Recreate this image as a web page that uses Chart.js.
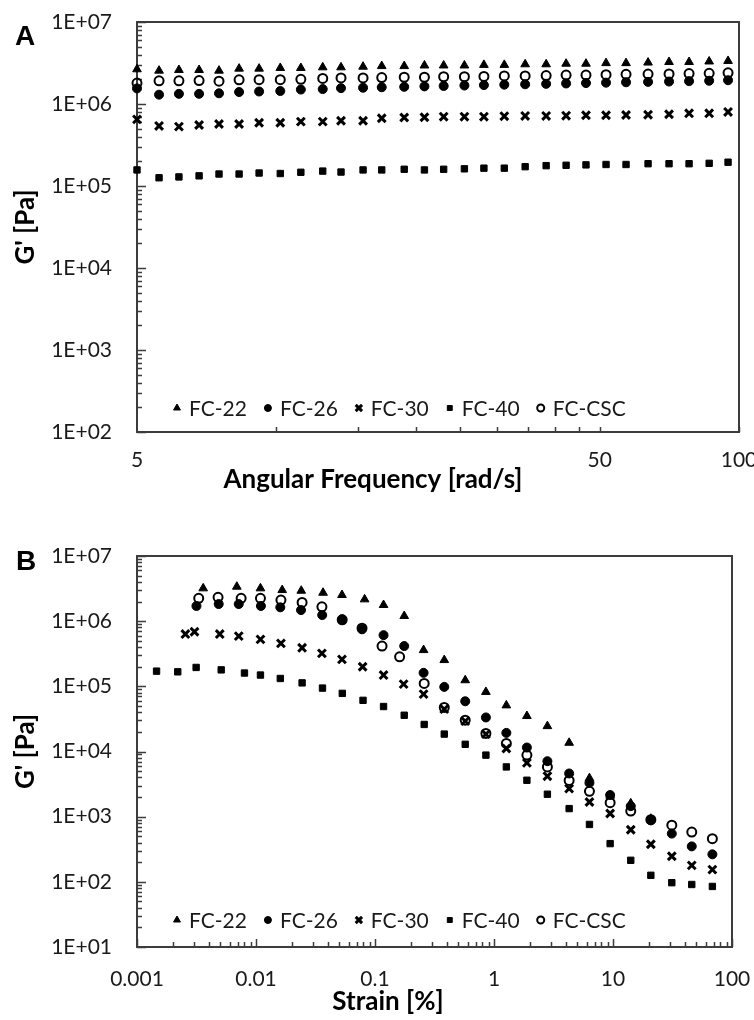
<!DOCTYPE html>
<html>
<head>
<meta charset="utf-8">
<script src="https://cdn.jsdelivr.net/npm/chart.js@4.4.1/dist/chart.umd.min.js"></script>
<style>
  html, body { margin: 0; padding: 0; background: #fff; }
  canvas { display: block; }
</style>
</head>
<body>
<canvas id="chart-a" width="754" height="505"></canvas>
<canvas id="chart-b" width="754" height="515"></canvas>
<script>
// Panel A: frequency sweep, G' vs angular frequency
const freq = [5.0, 5.58, 6.16, 6.81, 7.52, 8.31, 9.18, 10.2, 11.3, 12.6, 13.8, 15.4, 16.9, 18.9, 20.9,
  23.0, 25.5, 28.1, 31.1, 34.5, 38.3, 42.3, 46.7, 51.6, 57.0, 63.6, 70.6, 78.0, 86.2, 94.7];
const gFreq22 = [2.65e6, 2.55e6, 2.6e6, 2.6e6, 2.55e6, 2.7e6, 2.7e6, 2.75e6, 2.75e6, 2.8e6, 2.8e6, 2.85e6, 2.9e6, 2.9e6, 2.95e6,
  2.95e6, 2.95e6, 3.0e6, 3.0e6, 3.05e6, 3.05e6, 3.1e6, 3.1e6, 3.15e6, 3.15e6, 3.2e6, 3.25e6, 3.25e6, 3.3e6, 3.35e6];
const gFreq26 = [1.55e6, 1.3e6, 1.33e6, 1.33e6, 1.35e6, 1.4e6, 1.42e6, 1.44e6, 1.5e6, 1.52e6, 1.56e6, 1.58e6, 1.6e6, 1.62e6, 1.64e6,
  1.66e6, 1.68e6, 1.7e6, 1.72e6, 1.74e6, 1.76e6, 1.78e6, 1.8e6, 1.82e6, 1.84e6, 1.86e6, 1.88e6, 1.9e6, 1.92e6, 1.95e6];
const gFreq30 = [6.5e5, 5.4e5, 5.3e5, 5.55e5, 5.7e5, 5.7e5, 5.9e5, 5.9e5, 6.1e5, 6.1e5, 6.25e5, 6.25e5, 6.7e5, 6.85e5, 6.9e5,
  7.0e5, 7.0e5, 7.0e5, 7.1e5, 7.15e5, 7.15e5, 7.2e5, 7.3e5, 7.3e5, 7.35e5, 7.4e5, 7.5e5, 7.7e5, 7.7e5, 8.0e5];
const gFreq40 = [1.57e5, 1.26e5, 1.29e5, 1.33e5, 1.4e5, 1.4e5, 1.44e5, 1.42e5, 1.47e5, 1.52e5, 1.48e5, 1.57e5, 1.57e5, 1.6e5, 1.57e5,
  1.6e5, 1.62e5, 1.65e5, 1.65e5, 1.72e5, 1.77e5, 1.79e5, 1.81e5, 1.83e5, 1.83e5, 1.87e5, 1.87e5, 1.87e5, 1.89e5, 1.95e5];
const gFreqCSC = [1.8e6, 1.92e6, 1.92e6, 1.93e6, 1.9e6, 1.97e6, 1.98e6, 1.98e6, 2.0e6, 2.05e6, 2.08e6, 2.08e6, 2.1e6, 2.12e6, 2.12e6,
  2.15e6, 2.15e6, 2.17e6, 2.2e6, 2.2e6, 2.22e6, 2.25e6, 2.25e6, 2.28e6, 2.3e6, 2.32e6, 2.33e6, 2.35e6, 2.37e6, 2.4e6];

// Panel B: strain sweep, G' vs strain (each sample has its own strain points)
const strain22 = [0.0036, 0.0069, 0.0109, 0.0166, 0.024, 0.0366, 0.0528, 0.0818, 0.118, 0.176, 0.256,
  0.382, 0.573, 0.855, 1.27, 1.89, 2.81, 4.28, 6.34, 9.46, 14.1, 20.8];
const gStrain22 = [3.19e6, 3.38e6, 3.19e6, 3.0e6, 2.93e6, 2.73e6, 2.52e6, 2.16e6, 1.77e6, 1.2e6, 3.6e5,
  2.53e5, 1.24e5, 8.2e4, 5.1e4, 3.5e4, 2.45e4, 1.36e4, 3.9e3, 2.1e3, 1.6e3, 9.3e2];
const strain26 = [0.00316, 0.00486, 0.00716, 0.011, 0.016, 0.0239, 0.036, 0.053, 0.0778, 0.118, 0.176, 0.256,
  0.382, 0.573, 0.855, 1.27, 1.89, 2.81, 4.28, 6.34, 9.46, 14.1, 20.8, 31.2, 45.9, 68.4];
const gStrain26 = [1.71e6, 1.83e6, 1.83e6, 1.71e6, 1.63e6, 1.48e6, 1.24e6, 1.07e6, 7.5e5, 6.1e5, 4.15e5, 1.61e5,
  9.8e4, 5.9e4, 3.33e4, 1.93e4, 1.15e4, 7.1e3, 4.6e3, 3.3e3, 2.15e3, 1.45e3, 8.8e2, 5.5e2, 3.5e2, 2.64e2];
const strain30 = [0.00255, 0.00304, 0.00496, 0.00716, 0.0109, 0.0162, 0.0244, 0.0358, 0.0528, 0.0787, 0.118, 0.174, 0.256,
  0.382, 0.573, 0.855, 1.27, 1.89, 2.81, 4.28, 6.34, 9.46, 14.1, 20.8, 31.2, 45.9, 68.4];
const gStrain30 = [6.34e5, 6.88e5, 6.34e5, 5.9e5, 5.25e5, 4.56e5, 3.9e5, 3.2e5, 2.59e5, 2.0e5, 1.49e5, 1.08e5, 7.6e4,
  4.47e4, 2.92e4, 1.85e4, 1.11e4, 6.7e3, 4.18e3, 2.7e3, 1.68e3, 1.12e3, 6.3e2, 3.77e2, 2.47e2, 1.79e2, 1.54e2];
const strain40 = [0.00146, 0.0022, 0.00314, 0.0051, 0.008, 0.0109, 0.016, 0.0244, 0.0362, 0.0531, 0.0793, 0.118, 0.176, 0.259,
  0.382, 0.573, 0.855, 1.27, 1.89, 2.81, 4.28, 6.34, 9.46, 14.1, 20.8, 31.2, 45.9, 68.4];
const gStrain40 = [1.71e5, 1.67e5, 1.95e5, 1.79e5, 1.6e5, 1.49e5, 1.32e5, 1.13e5, 9.4e4, 7.8e4, 6.1e4, 4.9e4, 3.6e4, 2.6e4,
  1.85e4, 1.29e4, 8.8e3, 5.8e3, 3.62e3, 2.21e3, 1.33e3, 7.6e2, 3.86e2, 2.14e2, 1.26e2, 97, 91, 85];
const strainCSC = [0.0033, 0.0048, 0.0075, 0.0109, 0.0162, 0.0244, 0.0358, 0.053, 0.0778, 0.1146, 0.161, 0.259,
  0.382, 0.573, 0.855, 1.27, 1.89, 2.81, 4.28, 6.34, 9.46, 14.1, 20.8, 31.2, 45.9, 68.4];
const gStrainCSC = [2.24e6, 2.32e6, 2.24e6, 2.24e6, 2.11e6, 1.94e6, 1.66e6, 1.05e6, 7.8e5, 4.15e5, 2.84e5, 1.11e5,
  4.74e4, 3.03e4, 1.89e4, 1.33e4, 8.8e3, 5.8e3, 3.6e3, 2.45e3, 1.64e3, 1.22e3, 9.0e2, 7.4e2, 5.8e2, 4.6e2];

// Axis ticks
const seriesNames = ['FC-22', 'FC-26', 'FC-30', 'FC-40', 'FC-CSC'];
const gTicksA = [1e2, 1e3, 1e4, 1e5, 1e6, 1e7];
const gTicksB = [1e1, 1e2, 1e3, 1e4, 1e5, 1e6, 1e7];
const freqTickLabels = [5, 50, 100];
const freqTickMarks = [10, 15, 20, 25, 30, 35, 40, 45, 50, 100];
const strainTickLabels = [0.001, 0.01, 0.1, 1, 10, 100];

const FONT = 'Lato, "Open Sans", sans-serif';
const AXIS_COLOR = '#3c3c3c';

// Marker look per series (same order as seriesNames)
const markers = [
  { pointStyle: 'triangle', radius: 5, fill: '#000', border: 1, legendRadius: 4 },
  { pointStyle: 'circle', radius: 4.5, fill: '#000', border: 1, legendRadius: 3.5 },
  { pointStyle: 'crossRot', radius: 5.5, fill: '#000', border: 3, legendRadius: 4.5 },
  { pointStyle: 'rect', radius: 4.5, fill: '#000', border: 1, legendRadius: 3.5 },
  { pointStyle: 'circle', radius: 4.5, fill: 'rgba(0,0,0,0)', border: 2, legendRadius: 3.5 }
];

function buildDatasets(xSets, ySets) {
  return seriesNames.map((name, i) => ({
    label: name,
    data: ySets[i].map((v, j) => ({ x: xSets[i][j], y: v })),
    pointStyle: markers[i].pointStyle,
    pointRadius: markers[i].radius,
    pointHoverRadius: markers[i].radius,
    pointBackgroundColor: markers[i].fill,
    pointBorderColor: '#000',
    pointBorderWidth: markers[i].border,
    showLine: false,
    clip: false
  }));
}

function decadeMarks(min, max) {
  const marks = [];
  for (let e = Math.round(Math.log10(min)); e < Math.round(Math.log10(max)); e++) {
    for (let k = 1; k <= 9; k++) marks.push({ value: k * Math.pow(10, e), major: k === 1 });
  }
  marks.push({ value: max, major: true });
  return marks;
}

// Box around the plot area with inward tick marks
const frameTicks = {
  id: 'frameTicks',
  beforeDatasetsDraw(chart, args, opts) {
    const { ctx, chartArea: a, scales: { x, y } } = chart;
    ctx.save();
    ctx.strokeStyle = AXIS_COLOR;
    ctx.lineWidth = 1.5;
    ctx.beginPath();
    decadeMarks(y.min, y.max).forEach(m => {
      const py = Math.round(y.getPixelForValue(m.value)) + 0.5;
      ctx.moveTo(a.left, py);
      ctx.lineTo(a.left + (m.major ? 9 : 5), py);
    });
    opts.xMarks.forEach(m => {
      const px = Math.round(x.getPixelForValue(m.value)) + 0.5;
      ctx.moveTo(px, a.bottom);
      ctx.lineTo(px, a.bottom - (m.major ? 8 : 5));
    });
    ctx.stroke();
    ctx.lineWidth = 2;
    ctx.strokeRect(a.left, a.top, a.right - a.left, a.bottom - a.top);
    ctx.restore();
  }
};

// Legend row drawn inside the plot area, bottom left
const insideLegend = {
  id: 'insideLegend',
  afterDatasetsDraw(chart, args, opts) {
    const { ctx, chartArea: a } = chart;
    ctx.save();
    ctx.font = '21px ' + FONT;
    ctx.textBaseline = 'middle';
    let mx = a.left + opts.offsetX;
    const my = a.bottom - opts.offsetY;
    seriesNames.forEach((name, i) => {
      const m = markers[i];
      ctx.fillStyle = m.fill;
      ctx.strokeStyle = '#000';
      ctx.lineWidth = m.border;
      Chart.helpers.drawPoint(ctx, { pointStyle: m.pointStyle, radius: m.legendRadius, borderWidth: m.border, rotation: 0 }, mx, my);
      ctx.fillStyle = '#1a1a1a';
      ctx.fillText(name, mx + 12, my + 1);
      mx += 12 + ctx.measureText(name).width + 21;
    });
    ctx.restore();
  }
};

// Panel letter and x-axis title (the title sits left of the plot centre, as in the figure)
const panelText = {
  id: 'panelText',
  afterDraw(chart, args, opts) {
    const { ctx } = chart;
    ctx.save();
    ctx.fillStyle = '#000';
    ctx.textBaseline = 'alphabetic';
    ctx.font = 'bold 28px "Liberation Sans", Arial, sans-serif';
    ctx.fillText(opts.letter, opts.letterX, opts.letterY);
    ctx.font = 'bold 26px ' + FONT;
    ctx.textAlign = 'center';
    ctx.textBaseline = 'middle';
    ctx.fillText(opts.title, opts.titleX, opts.titleY);
    ctx.restore();
  }
};

const expLabel = v => '1E+' + String(Math.round(Math.log10(v))).padStart(2, '0');

function makeChart(id, cfg) {
  return new Chart(document.getElementById(id), {
    type: 'scatter',
    data: { datasets: cfg.datasets },
    options: {
      responsive: false,
      animation: false,
      layout: { padding: { top: cfg.top, right: cfg.right, left: 0, bottom: 0 } },
      plugins: {
        legend: { display: false },
        tooltip: { enabled: false },
        frameTicks: { xMarks: cfg.xMarks },
        insideLegend: { offsetX: 40, offsetY: cfg.legendY },
        panelText: cfg.text
      },
      scales: {
        x: {
          type: 'logarithmic',
          min: cfg.xMin,
          max: cfg.xMax,
          grid: { display: false, drawTicks: false },
          border: { display: false },
          afterBuildTicks: s => { s.ticks = cfg.xLabels.map(v => ({ value: v })); },
          afterFit: s => { s.height = 73; s.paddingLeft = 0; s.paddingRight = 0; },
          ticks: {
            autoSkip: false, maxRotation: 0, minRotation: 0,
            padding: cfg.xPad,
            color: '#1a1a1a',
            font: { family: FONT, size: 21 },
            callback: v => String(v)
          },
          title: { display: false }
        },
        y: {
          type: 'logarithmic',
          min: cfg.yTicks[0],
          max: cfg.yTicks[cfg.yTicks.length - 1],
          grid: { display: false, drawTicks: false },
          border: { display: false },
          afterBuildTicks: s => { s.ticks = cfg.yTicks.map(v => ({ value: v })); },
          afterFit: s => { s.width = 137; s.paddingTop = 0; s.paddingBottom = 0; },
          ticks: {
            autoSkip: false,
            padding: 25,
            color: '#1a1a1a',
            font: { family: FONT, size: 21 },
            callback: expLabel
          },
          title: {
            display: true, text: "G' [Pa]", color: '#000',
            font: { family: FONT, size: 26, weight: 'bold' },
            padding: { top: 10, bottom: 0 }
          }
        }
      }
    },
    plugins: [frameTicks, insideLegend, panelText]
  });
}

makeChart('chart-a', {
  datasets: buildDatasets([freq, freq, freq, freq, freq], [gFreq22, gFreq26, gFreq30, gFreq40, gFreqCSC]),
  top: 22, right: 15,
  xMin: 5, xMax: 100,
  xLabels: freqTickLabels,
  xMarks: freqTickMarks.map(v => ({ value: v, major: false })),
  xPad: 16,
  yTicks: gTicksA,
  legendY: 24,
  text: { letter: 'A', letterX: 15, letterY: 45, title: 'Angular Frequency [rad/s]', titleX: 373, titleY: 480 }
});

makeChart('chart-b', {
  datasets: buildDatasets([strain22, strain26, strain30, strain40, strainCSC],
    [gStrain22, gStrain26, gStrain30, gStrain40, gStrainCSC]),
  top: 51, right: 22,
  xMin: 0.001, xMax: 100,
  xLabels: strainTickLabels,
  xMarks: decadeMarks(0.001, 100),
  xPad: 20,
  yTicks: gTicksB,
  legendY: 27,
  text: { letter: 'B', letterX: 16, letterY: 65, title: 'Strain [%]', titleX: 388, titleY: 497 }
});
</script>
</body>
</html>
